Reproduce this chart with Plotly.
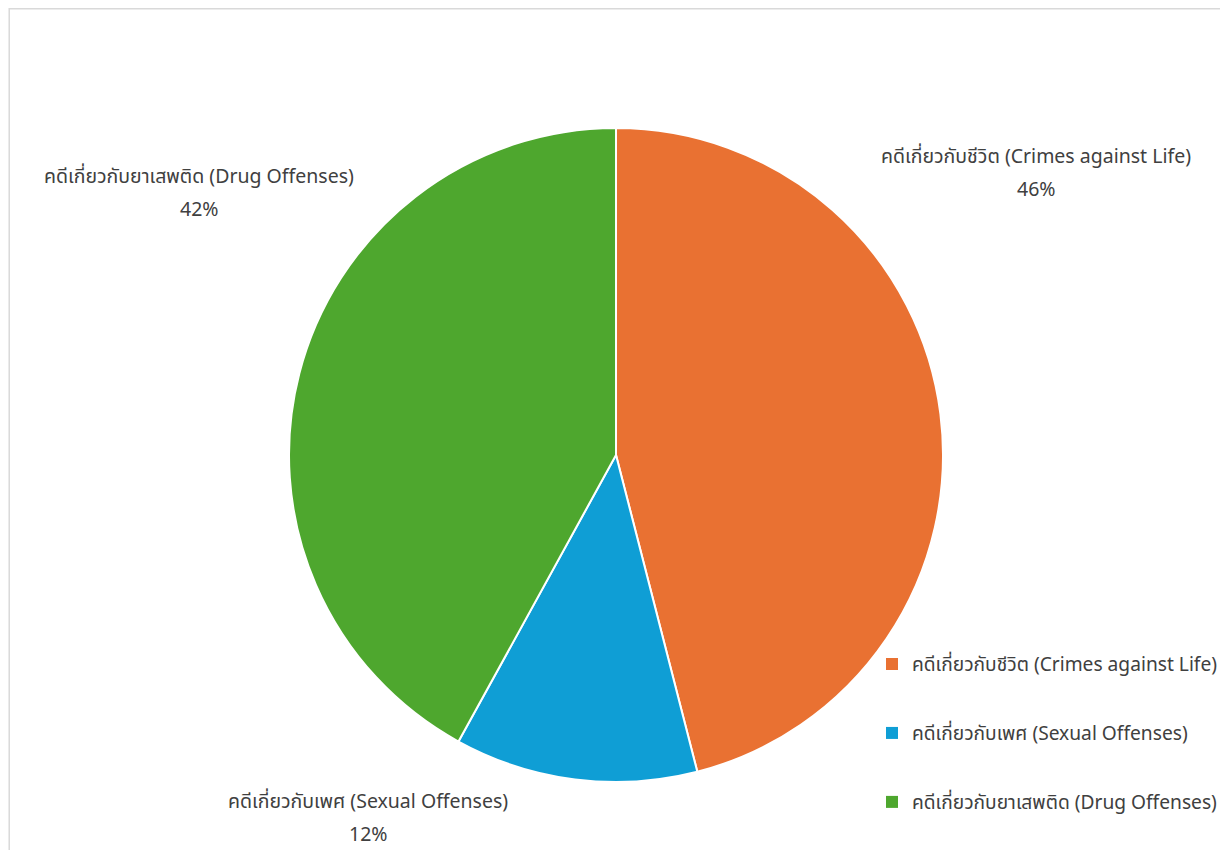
import plotly.graph_objects as go

categories = ["คดีเกี่ยวกับชีวิต (Crimes against Life)",
              "คดีเกี่ยวกับเพศ (Sexual Offenses)",
              "คดีเกี่ยวกับยาเสพติด (Drug Offenses)"]
values = [46, 12, 42]
colors = ["#E97132", "#0F9ED5", "#4EA72E"]

W, H = 1220, 842
OFF = 8  # page body margin
FONT = "Noto Sans Thai, Noto Sans, Tahoma, DejaVu Sans, sans-serif"
TXT = "#404040"


def px(x):
    return (x - OFF) / W


def py(y):
    return 1 - (y - OFF) / H


fig = go.Figure()
cx, cy, r = 616, 455, 327
fig.add_trace(go.Pie(
    labels=categories, values=values, sort=False, direction="clockwise",
    rotation=0, textinfo="none", hoverinfo="label+percent",
    marker=dict(colors=colors, line=dict(color="white", width=2)),
    domain=dict(x=[px(cx - r), px(cx + r)], y=[py(cy + r), py(cy - r)]),
    showlegend=False,
))

# legend entries (square markers, spaced like the reference)
for i, (c, col) in enumerate(zip(categories, colors)):
    fig.add_trace(go.Scatter(
        x=[None], y=[None], mode="markers", name=c,
        marker=dict(symbol="square", size=11, color=col),
        legendgroup=f"g{i}", showlegend=True, hoverinfo="skip",
    ))

# data labels (name + percentage), Excel-like positions
total = sum(values)
label_pos = [(1036, 157), (368, 802), (199, 177)]
annotations = []
for c, v, (lx, ly) in zip(categories, values, label_pos):
    annotations.append(dict(x=px(lx), y=py(ly), xref="paper", yref="paper",
                            text=c, showarrow=False, xanchor="center", yanchor="middle",
                            font=dict(size=19.5, color=TXT, family=FONT)))
    annotations.append(dict(x=px(lx), y=py(ly + 33), xref="paper", yref="paper",
                            text=f"{round(v / total * 100)}%", showarrow=False,
                            xanchor="center", yanchor="middle",
                            font=dict(size=19.5, color=TXT, family=FONT)))

fig.update_layout(
    width=W, height=H,
    margin=dict(l=0, r=0, t=0, b=0),
    paper_bgcolor="white", plot_bgcolor="white",
    font=dict(family=FONT, color=TXT, size=19.5),
    xaxis=dict(visible=False, domain=[0, 0.01]),
    yaxis=dict(visible=False, domain=[0, 0.01]),
    legend=dict(x=px(872), y=py(645), xanchor="left", yanchor="top",
                tracegroupgap=41, font=dict(size=19.2, color=TXT, family=FONT),
                itemsizing="constant", bgcolor="rgba(0,0,0,0)"),
    annotations=annotations,
    shapes=[dict(type="rect", xref="paper", yref="paper",
                 x0=0.001, x1=px(1224), y0=-0.01, y1=0.999,
                 line=dict(color="#D9D9D9", width=1.5))],
)

fig.write_html("out.html")
